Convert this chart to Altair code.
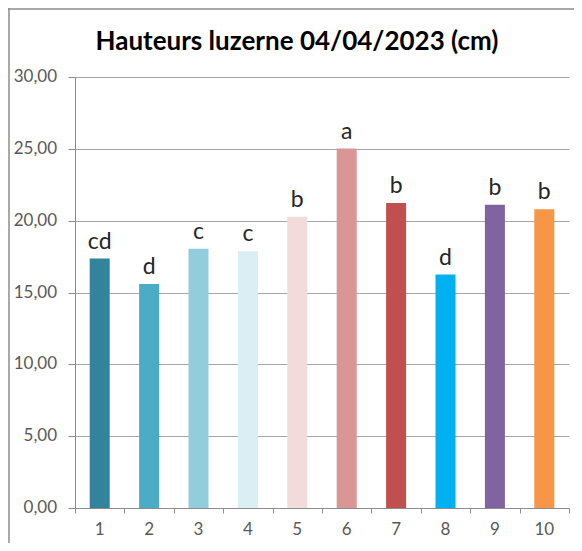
import altair as alt
import pandas as pd

categories = ["1", "2", "3", "4", "5", "6", "7", "8", "9", "10"]
values = [17.36, 15.6, 18.05, 17.87, 20.28, 25.02, 21.23, 16.25, 21.1, 20.8]
letters = ["cd", "d", "c", "c", "b", "a", "b", "d", "b", "b"]
colors = ["#31849B", "#4BACC6", "#92CDDC", "#DAEEF3", "#F2DCDB",
          "#DA9694", "#C0504D", "#00B0F0", "#8064A2", "#F79646"]
y_ticks = [0, 5, 10, 15, 20, 25, 30]
y_tick_labels = ["0,00", "5,00", "10,00", "15,00", "20,00", "25,00", "30,00"]
title_text = "Hauteurs luzerne 04/04/2023 (cm)"

df = pd.DataFrame({"cat": categories, "val": values, "lab": letters})
dfy = pd.DataFrame({"val": y_ticks, "lab": y_tick_labels})

W, H = 494, 431
FONT = "Lato"

x_axis = alt.Axis(title=None, labels=False, tickBand="extent", tickSize=5,
                  grid=False, tickColor="#8c8c8c", domainColor="#8c8c8c")
y_axis = alt.Axis(title=None, values=y_ticks, labels=False, tickSize=7,
                  gridColor="#a6a6a6", gridWidth=1,
                  tickColor="#8c8c8c", domainColor="#8c8c8c")
x_scale = alt.Scale(domain=categories, paddingInner=0, paddingOuter=0)
y_scale = alt.Scale(domain=[0, 30], nice=False)

x = alt.X("cat:N", sort=categories, scale=x_scale, axis=x_axis)
y = alt.Y("val:Q", scale=y_scale, axis=y_axis)

bars = alt.Chart(df).mark_bar(size=20).encode(
    x=x, y=y,
    color=alt.Color("cat:N", sort=categories,
                    scale=alt.Scale(domain=categories, range=colors), legend=None),
)
texts = alt.Chart(df).mark_text(baseline="bottom", dy=-5, font=FONT,
                                fontSize=23, color="#262626").encode(
    x=x, y=y, text="lab:N")

x_labels = alt.Chart(df).mark_text(baseline="top", font=FONT, fontSize=17,
                                   color="#595959").encode(
    x=x, y=alt.value(H + 14), text="cat:N")
y_labels = alt.Chart(dfy).mark_text(align="right", baseline="middle", font=FONT,
                                    fontSize=17, color="#595959").encode(
    x=alt.value(-18), y=y, text="lab:N")

title = alt.Chart(pd.DataFrame({"t": [title_text]})).mark_text(
    font=FONT, fontSize=26, fontWeight="bold", color="#000000",
    align="center", baseline="middle").encode(
    x=alt.value(222), y=alt.value(-35), text="t:N")

frame_top = alt.Chart(pd.DataFrame({"a": [0]})).mark_rule(
    color="#8c8c8c", strokeWidth=1.5).encode(
    x=alt.value(-67), x2=alt.value(W + 5), y=alt.value(-68))
frame_left = alt.Chart(pd.DataFrame({"a": [0]})).mark_rule(
    color="#8c8c8c", strokeWidth=1.5).encode(
    x=alt.value(-66), y=alt.value(-69), y2=alt.value(H + 35))

chart = alt.layer(bars, texts, x_labels, y_labels, title, frame_top, frame_left).properties(
    width=W, height=H,
    background="white",
    autosize=alt.AutoSizeParams(type="none"),
    padding={"left": 67, "top": 69, "right": 5, "bottom": 35},
).configure_view(strokeWidth=0)

chart.save("out.html", embed_options={"renderer": "svg", "actions": False})
